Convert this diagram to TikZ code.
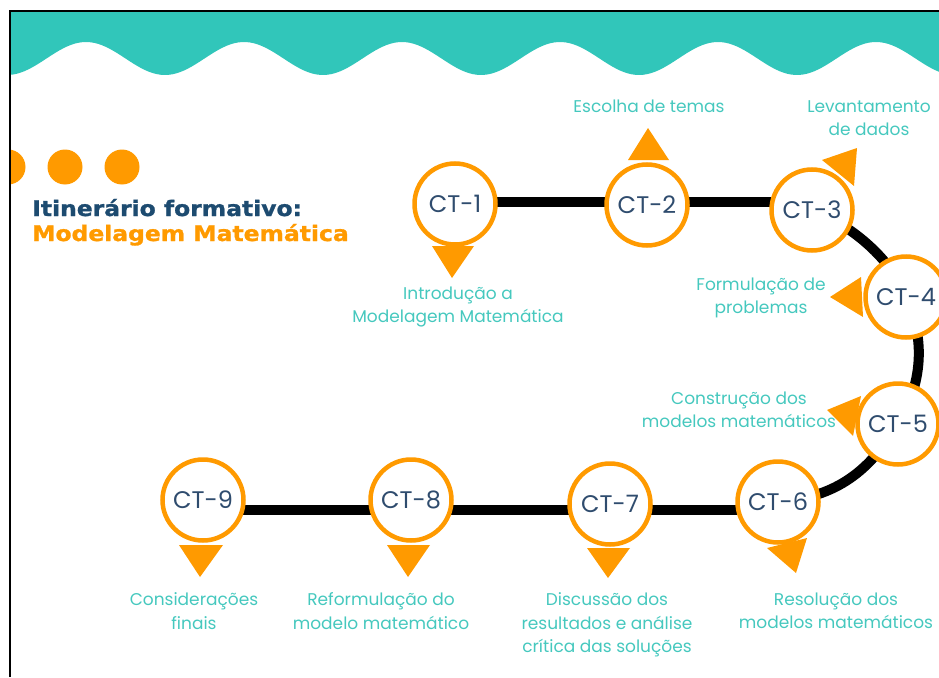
\documentclass[tikz,border=0pt]{standalone}
\usepackage{fontspec}
\setmainfont{Poppins}
\newfontfamily\titlefont[FakeStretch=1.1,FakeBold=1.2]{DejaVu Sans Bold}
\usetikzlibrary{backgrounds}

\definecolor{wave}{HTML}{31C6BA}
\definecolor{accent}{HTML}{FF9A00}
\definecolor{captext}{HTML}{45C8BE}
\definecolor{ctblue}{HTML}{2F4C6E}
\definecolor{navy}{HTML}{1D4B70}

\tikzset{
  stage/.style={circle, draw=accent, line width=4.5pt, fill=white,
    minimum size=81pt, inner sep=0pt, text=ctblue,
    font=\fontsize{24}{28}\selectfont},
  track/.style={line width=10pt, draw=black},
  pointer/.style={fill=accent},
  caption/.style={text=captext, align=center, inner sep=0pt,
    font=\fontsize{17}{23.5}\selectfont},
  headline/.style={anchor=base west, inner sep=0pt,
    font=\titlefont\fontsize{21.3}{25}\selectfont},
}

\begin{document}
\begin{tikzpicture}[x=1pt,y=-1pt]
\useasboundingbox (0,0) rectangle (939,677);

% wavy band and the three dots, kept inside the frame
\begin{scope}
  \clip (9,11) rectangle (939,677);
  \fill[wave] (9,0) -- (939,0)
    -- plot[domain=939:9,samples=240] (\x,{58.5+16.5*cos(2.2785*(\x-7))})
    -- cycle;
  \fill[accent] (8,167) circle[radius=17.5];
  \fill[accent] (65,167) circle[radius=17.5];
  \fill[accent] (122,167) circle[radius=17.5];
\end{scope}
\draw[line width=2pt] (9.5,677) -- (9.5,11) -- (939,11);

% heading
\node[headline, text=navy] (title) at (32,216) {Itinerário formativo:};
\node[headline, text=accent] (subtitle) at (32,241) {Modelagem Matemática};

% stages
\node[stage] (ct1) at (455,204) {CT-1};
\node[stage] (ct2) at (647,205) {CT-2};
\node[stage] (ct3) at (812,210) {CT-3};
\node[stage] (ct4) at (906,297) {CT-4};
\node[stage] (ct5) at (898,424) {CT-5};
\node[stage] (ct6) at (778,502) {CT-6};
\node[stage] (ct7) at (610,504) {CT-7};
\node[stage] (ct8) at (411,500) {CT-8};
\node[stage] (ct9) at (203,500) {CT-9};

% path joining the stages
\begin{scope}[on background layer]
  \draw[track] ([yshift=2pt]ct1.center) -- ([yshift=2pt]ct1.center -| ct3.center);
  \draw[track] (ct3.center) .. controls +(33,12) and +(-16,-42) .. (ct4.center);
  \draw[track] (ct4.center) .. controls +(20,43) and +(24,-39) .. (ct5.center);
  \draw[track] (ct5.center) .. controls +(-28,46) and +(60,-5) .. (ct6.center);
  \draw[track] ([yshift=-8pt]ct6.center) -- ([yshift=-8pt]ct6.center -| ct9.center);
\end{scope}

% pointers
\fill[pointer] (432,246) -- (474,246) -- (452,278) -- cycle;
\fill[pointer] (628,160) -- (669,160) -- (648,128) -- cycle;
\fill[pointer] (822,160) -- (854,186) -- (857,148) -- cycle;
\fill[pointer] (861,277) -- (863,317) -- (830,297) -- cycle;
\fill[pointer] (861,396) -- (853,436) -- (827,410) -- cycle;
\fill[pointer] (767,548) -- (807,538) -- (796,573) -- cycle;
\fill[pointer] (587,548) -- (630,548) -- (608,578) -- cycle;
\fill[pointer] (387,545) -- (430,545) -- (408,577) -- cycle;
\fill[pointer] (179,545) -- (223,545) -- (200,577) -- cycle;

% captions
\node[caption] (lab1) at (458,307) {Introdução a\\Modelagem Matemática};
\node[caption] (lab2) at (649,106) {Escolha de temas};
\node[caption] (lab3) at (869,118) {Levantamento\\de dados};
\node[caption] (lab4) at (761,298) {Formulação de\\problemas};
\node[caption] (lab5) at (739,410) {Construção dos\\modelos matemáticos};
\node[caption] (lab6) at (836,611) {Resolução dos\\modelos matemáticos};
\node[caption] (lab7) at (607,625) {Discussão dos\\resultados e análise\\crítica das soluções};
\node[caption] (lab8) at (381,611) {Reformulação do\\modelo matemático};
\node[caption] (lab9) at (194,611) {Considerações\\finais};
\end{tikzpicture}
\end{document}
